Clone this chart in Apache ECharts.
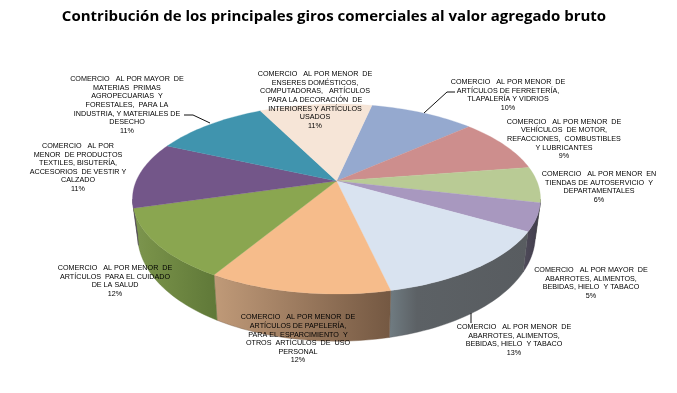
<!DOCTYPE html>
<html>
<head>
	<meta charset="UTF-8">
	<title></title>
	<style>
		html, body { margin: 0; padding: 0; background: #fff; }
		#chart { width: 677px; height: 393px; }
	</style>
	<script src="https://cdn.jsdelivr.net/npm/echarts@6/dist/echarts.min.js"></script>
</head>
<body>
	<div id="chart"></div>
	<script>
		var chartTitle = 'Contribución de los principales giros comerciales al valor agregado bruto';

		// slices clockwise, starting just right of 12 o'clock
		var categories = [
			'COMERCIO   AL POR MENOR  DE\nARTÍCULOS DE FERRETERÍA,\nTLAPALERÍA Y VIDRIOS',
			'COMERCIO   AL POR MENOR  DE\nVEHÍCULOS  DE MOTOR,\nREFACCIONES,  COMBUSTIBLES\nY LUBRICANTES',
			'COMERCIO   AL POR MENOR  EN\nTIENDAS DE AUTOSERVICIO  Y\nDEPARTAMENTALES',
			'COMERCIO   AL POR MAYOR  DE\nABARROTES, ALIMENTOS,\nBEBIDAS, HIELO  Y TABACO',
			'COMERCIO   AL POR MENOR  DE\nABARROTES, ALIMENTOS,\nBEBIDAS, HIELO  Y TABACO',
			'COMERCIO   AL POR MENOR  DE\nARTÍCULOS DE PAPELERÍA,\nPARA EL ESPARCIMIENTO  Y\nOTROS  ARTÍCULOS  DE  USO\nPERSONAL',
			'COMERCIO   AL POR MENOR  DE\nARTÍCULOS  PARA EL CUIDADO\nDE LA SALUD',
			'COMERCIO   AL POR\nMENOR  DE PRODUCTOS\nTEXTILES, BISUTERÍA,\nACCESORIOS  DE VESTIR Y\nCALZADO',
			'COMERCIO   AL POR MAYOR  DE\nMATERIAS  PRIMAS\nAGROPECUARIAS  Y\nFORESTALES,  PARA LA\nINDUSTRIA, Y MATERIALES DE\nDESECHO',
			'COMERCIO   AL POR MENOR  DE\nENSERES DOMÉSTICOS,\nCOMPUTADORAS,   ARTÍCULOS\nPARA LA DECORACIÓN  DE\nINTERIORES Y ARTÍCULOS\nUSADOS'
		];
		var shares = [10.0, 9.2, 6.1, 4.7, 13.1, 12.1, 11.9, 11.3, 10.9, 10.7];

		var topColors = ['#95a9cf', '#cd8e8d', '#b9cb95', '#a898bf', '#d9e3f0', '#f6bc8b', '#8aa650', '#735689', '#4094ae', '#f6e5d7'];
		var wallColors = [
			['#6f7fa0', '#66748f', '#56627c'], ['#9a6b6a', '#8f6463', '#7d5655'], ['#6c7656', '#5f6849', '#4a503a'], ['#56515f', '#4c4857', '#3f3b4a'],
			['#707c82', '#5c6165', '#585c60'], ['#c09a78', '#b18d6e', '#745842'], ['#7d9650', '#779048', '#5f7838'], ['#5c4570', '#554068', '#4a3a5c'],
			['#33788d', '#2f6f82', '#2b6474'], ['#c4b6aa', '#b8aba0', '#a89c92']
		];

		// where each label block is centred, and the three leader lines
		var labelSpots = [[508, 95], [564, 139], [599, 187], [591, 283], [514, 340], [298, 339], [115, 281], [78, 167.5], [127, 105], [315, 100]];
		var leaderLines = [
			[[184, 115], [193, 115], [210, 123]],
			[[455, 92], [447, 92], [424, 113]],
			[[471, 313], [471, 323]]
		];

		// tilted disc with a little perspective, so the apex sits above the ellipse centre
		var cx = 336.5, cy = 181, ax = 200.3, ay = 91.6, persp = 0.1895;
		var firstAngle = 12.1;
		var wallFrom = 101, wallTo = 259;

		var total = shares.reduce(function (a, b) { return a + b; }, 0);
		var stops = [firstAngle];
		shares.forEach(function (v, i) {
			stops.push(stops[i] + v / total * 360);
		});

		function rim(deg) {
			var r = deg * Math.PI / 180;
			var u = Math.sin(r), v = -Math.cos(r);
			var d = 1 - persp * v;
			return { x: cx + ax * u / d, y: cy + ay * v / d, v: v };
		}
		function foot(deg) {
			var p = rim(deg);
			return [cx + (p.x - cx) * 0.975, cy + (p.y - cy) * 0.975 + 33 + 17 * p.v];
		}
		function arc(from, to, fn) {
			var pts = [];
			var n = Math.max(2, Math.ceil(Math.abs(to - from) / 1.5));
			for (var i = 0; i <= n; i++) {
				pts.push(fn(from + (to - from) * i / n));
			}
			return pts;
		}
		function rimPt(deg) {
			var p = rim(deg);
			return [p.x, p.y];
		}

		function renderWall(params) {
			var i = params.dataIndex;
			var a = Math.max(stops[i], wallFrom), b = Math.min(stops[i + 1], wallTo);
			if (b <= a) return;
			var pts = arc(a, b, rimPt).concat(arc(b, a, foot));
			// the gradient always runs from lit to dark, left to right
			return {
				type: 'polygon',
				shape: { points: pts },
				style: {
					fill: new echarts.graphic.LinearGradient(0, 0, 1, 0, [
						{ offset: 0, color: wallColors[i][0] },
						{ offset: 0.2, color: wallColors[i][1] },
						{ offset: 1, color: wallColors[i][2] }
					]),
					stroke: wallColors[i][2],
					lineWidth: 0.4
				}
			};
		}
		function renderTop(params) {
			var i = params.dataIndex;
			var pts = [[cx, cy]].concat(arc(stops[i], stops[i + 1], rimPt));
			return {
				type: 'polygon',
				shape: { points: pts },
				style: { fill: topColors[i], stroke: topColors[i], lineWidth: 0.3 }
			};
		}
		function renderLabel(params) {
			var i = params.dataIndex;
			return {
				type: 'text',
				x: labelSpots[i][0],
				y: labelSpots[i][1],
				style: {
					text: categories[i] + '\n' + Math.round(shares[i]) + '%',
					font: '7.2px "Liberation Sans", Arial, sans-serif',
					lineHeight: 8.6,
					align: 'center',
					verticalAlign: 'middle',
					fill: '#000'
				}
			};
		}

		var myChart = echarts.init(document.getElementById('chart'), null, { renderer: 'canvas' });

		myChart.setOption({
			animation: false,
			backgroundColor: '#fff',
			title: {
				text: chartTitle,
				left: 329,
				top: 4,
				textAlign: 'center',
				textStyle: { fontFamily: '"Open Sans", sans-serif', fontSize: 15, fontWeight: 'bold', color: '#000' }
			},
			series: [
				{ type: 'custom', coordinateSystem: 'none', data: shares, renderItem: renderWall, z: 1, silent: true },
				{ type: 'custom', coordinateSystem: 'none', data: shares, renderItem: renderTop, z: 2, silent: true },
				{ type: 'custom', coordinateSystem: 'none', data: shares, renderItem: renderLabel, z: 4, silent: true }
			],
			graphic: leaderLines.map(function (line) {
				return {
					type: 'polyline',
					z: 3,
					silent: true,
					shape: { points: line },
					style: { stroke: '#111', lineWidth: 1, fill: null }
				};
			})
		});
	</script>
</body>
</html>
